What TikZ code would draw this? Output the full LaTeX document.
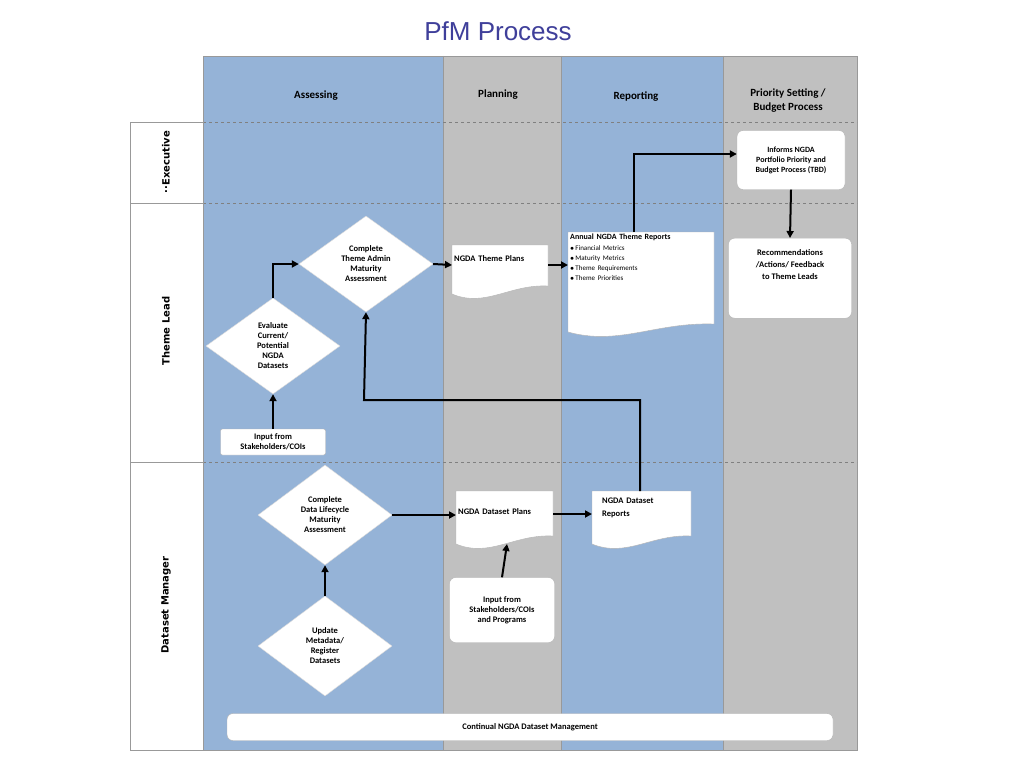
\documentclass[tikz,border=0pt]{standalone}
\usepackage{fontspec}
\setmainfont{Carlito}
\newfontfamily\titlefont{Liberation Sans}
\newfontfamily\rowfont{DejaVu Sans}
\usetikzlibrary{shapes.geometric,arrows.meta}
\pgfdeclarelayer{back}\pgfdeclarelayer{bg}\pgfsetlayers{back,bg,main}
\definecolor{laneblue}{HTML}{95B3D7}
\definecolor{lanegray}{HTML}{C0C0C0}
\definecolor{titleblue}{HTML}{3F3F9A}
\begin{document}
\begin{tikzpicture}[x=1pt,y=-1pt,
  every node/.style={font=\bfseries\fontsize{8.5}{10}\selectfont},
  dia/.style={diamond,fill=white,draw=gray!30,align=center,aspect=1.35,inner sep=0pt,minimum width=134pt,minimum height=96pt},
  box/.style={rectangle,rounded corners=6pt,fill=white,draw=gray!60,align=center},
  doc/.style={anchor=north west,align=left,inner sep=2pt},
  hdr/.style={font=\bfseries\fontsize{11}{14}\selectfont,align=center},
  arr/.style={-{Triangle[length=7pt,width=7pt]},line width=2pt},
  dashln/.style={dashed,gray,line width=0.6pt}]
\useasboundingbox (0,0) rectangle (1024,768);
\node[text=titleblue,font=\titlefont\fontsize{26}{30}\selectfont] (title) at (498,31) {PfM Process};
% lanes
\begin{pgfonlayer}{back}
\fill[laneblue] (203,56) rectangle (443,750);
\fill[lanegray] (443,56) rectangle (561,750);
\fill[laneblue] (561,56) rectangle (723,750);
\fill[lanegray] (723,56) rectangle (857,750);
\draw[gray!80] (203,56) rectangle (857,750);
\draw[gray!80] (443,56) -- (443,750) (561,56) -- (561,750) (723,56) -- (723,750);
\draw[dashln] (203,122) -- (857,122) (203,203) -- (857,203) (203,462) -- (857,462);
\draw[gray!80] (130,122) rectangle (203,750);
\draw[gray!80] (130,203) -- (203,203) (130,462) -- (203,462);
\end{pgfonlayer}
\node[rotate=90,font=\rowfont\bfseries\fontsize{10}{12}\selectfont] (rexe) at (166,162) {\textperiodcentered\textperiodcentered Executive};
\node[rotate=90,font=\rowfont\bfseries\fontsize{10}{12}\selectfont] (rtl) at (166,331) {Theme Lead};
\node[rotate=90,font=\rowfont\bfseries\fontsize{10}{12}\selectfont] (rdm) at (166,605) {Dataset Manager};
\node[hdr] (h1) at (316,96) {Assessing};
\node[hdr] (h2) at (498,95) {Planning};
\node[hdr] (h3) at (636,97) {Reporting};
\node[hdr] (h4) at (788,101) {Priority Setting /\\Budget Process};
% nodes
\node[dia] (eval) at (273,346) {Evaluate\\Current/\\Potential\\NGDA\\Datasets};
\node[dia] (cta) at (366,264) {Complete\\Theme Admin\\Maturity\\Assessment};
\node[box,rounded corners=2pt,minimum width=105pt,minimum height=26pt,inner sep=1pt] (in1) at (273,442) {Input from\\Stakeholders/COIs};
\node[doc,text width=92pt] (tp) at (452,253) {NGDA Theme Plans};
\node[doc,text width=142pt,font=\bfseries\fontsize{8}{10}\selectfont] (ar) at (568,232) {Annual NGDA Theme Reports\\[1pt]
 {\mdseries\fontsize{7}{10}\selectfont $\bullet$\,Financial Metrics\\$\bullet$\,Maturity Metrics\\$\bullet$\,Theme Requirements\\$\bullet$\,Theme Priorities}};
\node[box,minimum width=108pt,minimum height=59pt,font=\bfseries\fontsize{8}{10}\selectfont] (inf) at (791,160) {Informs NGDA\\Portfolio Priority and\\Budget Process (TBD)};
\node[box,minimum width=123pt,minimum height=80pt,anchor=north,align=center] (rec) at (790,238) {Recommendations\\[2pt]/Actions/ Feedback\\[2pt]to Theme Leads\\[18pt]};
\node[dia,minimum height=100pt] (cdl) at (325,515) {Complete\\Data Lifecycle\\Maturity\\Assessment};
\node[dia,minimum height=100pt] (upd) at (325,646) {Update\\Metadata/\\Register\\Datasets};
\node[doc,text width=93pt] (dp) at (456,506) {NGDA Dataset Plans};
\node[doc,text width=95pt] (dr) at (600,496) {NGDA Dataset\\[3pt]Reports};
\node[box,minimum width=105pt,minimum height=65pt] (in2) at (502,610) {Input from\\Stakeholders/COIs\\and Programs};
\node[box,minimum width=606pt,minimum height=27pt] (cont) at (530,727) {Continual NGDA Dataset Management};
% document shapes
\begin{pgfonlayer}{bg}
\foreach \l/\t/\r/\b in {452/245/548/286, 568/232/714/324, 456/491/553/536, 592/491/691/536}{
  \filldraw[fill=white,draw=gray!60] (\l,\t) -- (\r,\t) -- (\r,\b)
    .. controls ({\l+0.6*(\r-\l)},{\b-2}) and ({\l+0.35*(\r-\l)},{\b+22}) .. (\l,{\b+8}) -- cycle;
}
\end{pgfonlayer}
% connectors
\draw[arr] (in1.north) -- (eval.south);
\draw[arr] (eval.north) |- (cta.west);
\draw[arr] (cta.east) -- (452,265);
\draw[arr] (548,265) -- (568,265);
\draw[arr] (634,232) |- (inf.west |- 0,154);
\draw[arr] (inf.south) -- (rec.north);
\draw[arr] (640,491) |- (364,400) -- (cta.south);
\draw[arr] (upd.north) -- (cdl.south);
\draw[arr] (cdl.east) -- (456,515);
\draw[arr] (553,514) -- (592,514);
\draw[arr] (in2.north) -- (507,544);
\end{tikzpicture}
\end{document}
